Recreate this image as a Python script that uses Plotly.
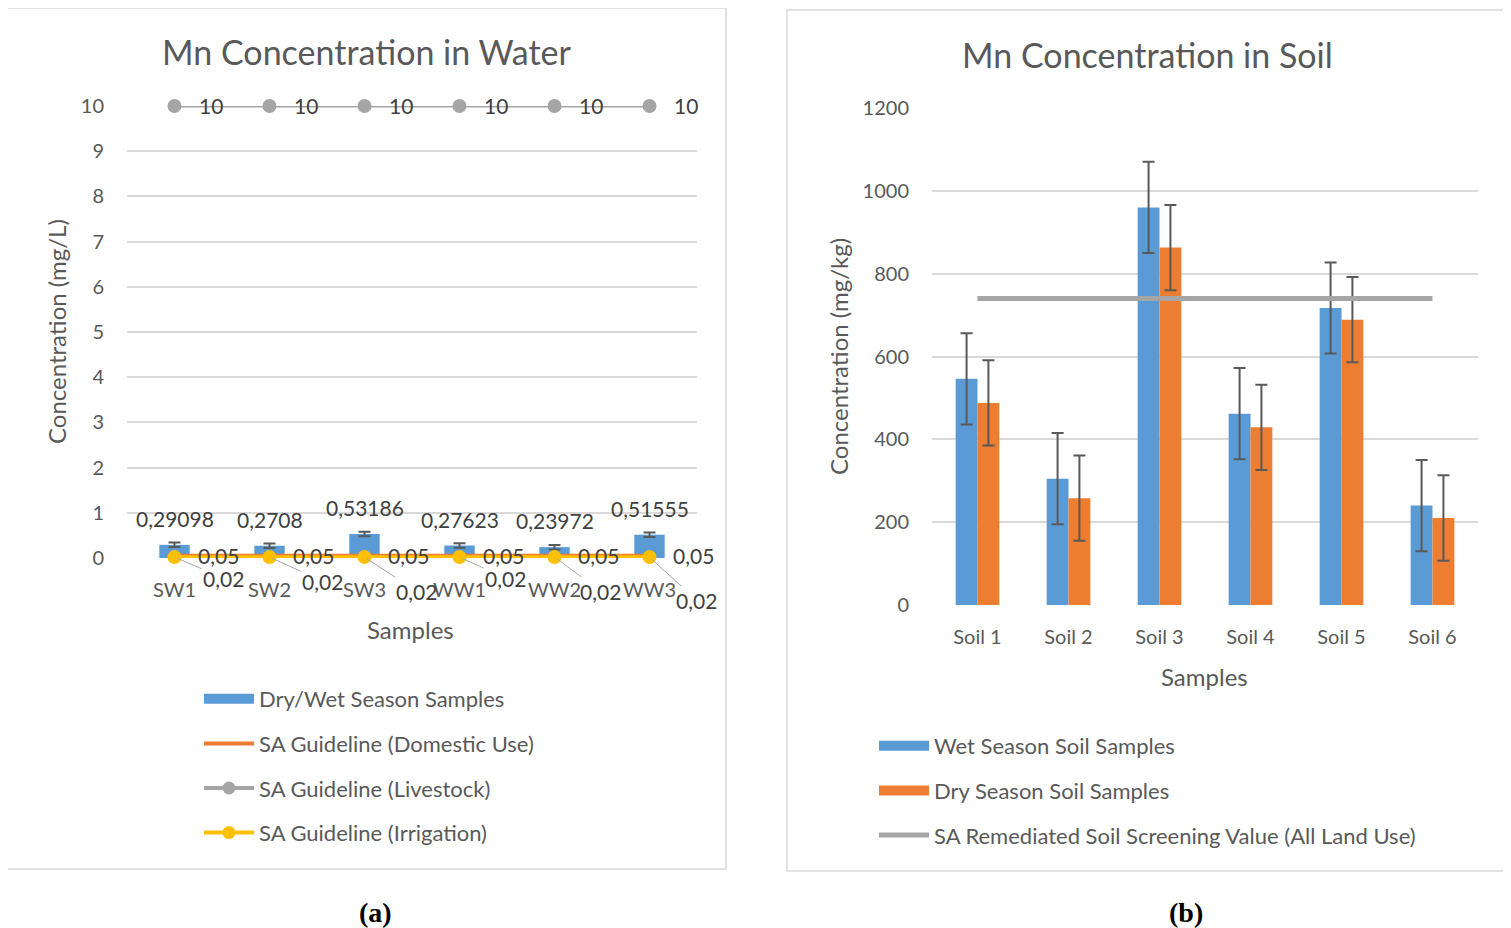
import plotly.graph_objects as go

# ---------------- data ----------------
water_samples = ["SW1", "SW2", "SW3", "WW1", "WW2", "WW3"]
water_values = [0.29098, 0.2708, 0.53186, 0.27623, 0.23972, 0.51555]
water_err = [0.05, 0.05, 0.05, 0.05, 0.05, 0.05]
domestic = [0.05, 0.05, 0.05, 0.05, 0.05, 0.05]
livestock = [10, 10, 10, 10, 10, 10]
irrigation = [0.02, 0.02, 0.02, 0.02, 0.02, 0.02]

soil_samples = ["Soil 1", "Soil 2", "Soil 3", "Soil 4", "Soil 5", "Soil 6"]
wet_soil = [546, 305, 960, 462, 717, 240]
wet_err = [110, 110, 110, 110, 110, 110]
dry_soil = [488, 258, 863, 429, 689, 210]
dry_err = [103, 103, 103, 103, 103, 103]
screening = [740, 740, 740, 740, 740, 740]

# ---------------- style ----------------
FONT = "Lato"
TXT = "#595959"
LBL = "#404040"
GRID = "#D9D9D9"
BLUE = "#5B9BD5"
ORANGE = "#ED7D31"
GRAY = "#A5A5A5"
YELLOW = "#FFC000"
# the page body adds an 8px margin, so the figure is placed 8px in from the corner
OX, OY = 8, 8
W, H = 1503, 920


def px(x):
    return (x - OX) / W


def py(y):
    return 1 - (y - OY) / H


def fmt(v):
    return f"{v:g}".replace(".", ",")


fig = go.Figure()

# ---- left: water ----
fig.add_trace(go.Bar(x=water_samples, y=water_values, marker_color=BLUE, width=0.32,
                     error_y=dict(type="data", array=water_err, color="#595959", thickness=2, width=6),
                     xaxis="x", yaxis="y", showlegend=False))
fig.add_trace(go.Scatter(x=water_samples, y=domestic, mode="lines", line=dict(color=ORANGE, width=4),
                         xaxis="x", yaxis="y", showlegend=False, cliponaxis=False))
fig.add_trace(go.Scatter(x=water_samples, y=livestock, mode="lines+markers",
                         line=dict(color=GRAY, width=3), marker=dict(size=14, color=GRAY),
                         xaxis="x", yaxis="y", showlegend=False, cliponaxis=False))
fig.add_trace(go.Scatter(x=water_samples, y=irrigation, mode="lines+markers",
                         line=dict(color=YELLOW, width=3.5), marker=dict(size=14, color=YELLOW),
                         xaxis="x", yaxis="y", showlegend=False, cliponaxis=False))

# legend entries (left)
left_leg = [("Dry/Wet Season Samples", BLUE, 14, False),
            ("SA Guideline (Domestic Use)", ORANGE, 4, False),
            ("SA Guideline (Livestock)", GRAY, 4, True),
            ("SA Guideline (Irrigation)", YELLOW, 4, True)]
for i, (name, col, lw, mk) in enumerate(left_leg):
    fig.add_trace(go.Scatter(x=[None], y=[None], name=name,
                             mode="lines+markers" if mk else "lines",
                             line=dict(color=col, width=lw), marker=dict(size=13, color=col),
                             xaxis="x", yaxis="y", legend="legend", legendgroup=f"l{i}"))

# ---- right: soil ----
fig.add_trace(go.Bar(x=soil_samples, y=wet_soil, marker_color=BLUE,
                     error_y=dict(type="data", array=wet_err, color="#595959", thickness=2, width=6),
                     xaxis="x2", yaxis="y2", showlegend=False, offsetgroup="w"))
fig.add_trace(go.Bar(x=soil_samples, y=dry_soil, marker_color=ORANGE,
                     error_y=dict(type="data", array=dry_err, color="#595959", thickness=2, width=6),
                     xaxis="x2", yaxis="y2", showlegend=False, offsetgroup="d"))
fig.add_trace(go.Scatter(x=soil_samples, y=screening, mode="lines",
                         line=dict(color=GRAY, width=5), xaxis="x2", yaxis="y2", showlegend=False))

right_leg = [("Wet Season Soil Samples", BLUE, 14),
             ("Dry Season Soil Samples", ORANGE, 14),
             ("SA Remediated Soil Screening Value (All Land Use)", GRAY, 5)]
for i, (name, col, lw) in enumerate(right_leg):
    fig.add_trace(go.Scatter(x=[None], y=[None], name=name, mode="lines",
                             line=dict(color=col, width=lw),
                             xaxis="x2", yaxis="y2", legend="legend2", legendgroup=f"r{i}"))

# ---- annotations: data labels ----
LF = dict(size=21, color=LBL)
ann = []
for s, v, e in zip(water_samples, water_values, water_err):
    ann.append(dict(x=s, y=v, xref="x", yref="y", text=fmt(v), showarrow=False,
                    yanchor="bottom", yshift=12, font=LF))
for s, v in zip(water_samples, domestic):
    ann.append(dict(x=s, y=v, xref="x", yref="y", text=fmt(v), showarrow=False,
                    xanchor="left", yanchor="middle", xshift=21, yshift=0, font=LF))
for s, v in zip(water_samples, livestock):
    ann.append(dict(x=s, y=v, xref="x", yref="y", text=fmt(v), showarrow=False,
                    xanchor="left", yanchor="middle", xshift=22, font=LF))
offs = [(49, 21), (53, 24), (52, 34), (46, 21), (46, 34), (47, 43)]
for (s, v), (ax, ay) in zip(zip(water_samples, irrigation), offs):
    ann.append(dict(x=s, y=v, xref="x", yref="y", text=fmt(v), showarrow=True,
                    arrowhead=0, arrowwidth=1, arrowcolor="#A6A6A6", ax=ax, ay=ay,
                    standoff=3, font=LF))

# titles, axis titles and captions
AT = dict(size=24, color=TXT)
ann += [
    dict(x=px(366), y=py(52), text="Mn Concentration in Water", font=dict(size=34, color=TXT)),
    dict(x=px(1147), y=py(54), text="Mn Concentration in Soil", font=dict(size=34, color=TXT)),
    dict(x=px(57), y=py(332), text="Concentration (mg/L)", textangle=-90, font=AT),
    dict(x=px(411), y=py(629), text="Samples", font=AT),
    dict(x=px(838), y=py(357), text="Concentration (mg/kg)", textangle=-90, font=AT),
    dict(x=px(1204), y=py(676), text="Samples", font=AT),
    dict(x=px(375), y=py(912), text="<b>(a)</b>",
         font=dict(size=28, color="black", family="Liberation Serif")),
    dict(x=px(1186), y=py(912), text="<b>(b)</b>",
         font=dict(size=28, color="black", family="Liberation Serif")),
]
for a in ann[-8:]:
    a.update(xref="paper", yref="paper", showarrow=False, xanchor="center", yanchor="middle")

shapes = [
    dict(type="rect", xref="paper", yref="paper", x0=px(6), x1=px(726), y0=py(869), y1=py(8),
         line=dict(color=GRID, width=1.5), layer="below"),
    dict(type="rect", xref="paper", yref="paper", x0=px(787), x1=px(1507),
         y0=py(871), y1=py(10), line=dict(color=GRID, width=1.5), layer="below"),
]

TF = dict(size=20, color=TXT)
yax_common = dict(showline=False, ticks="", tickfont=TF, gridcolor=GRID, gridwidth=1.5,
                  zeroline=False, automargin=False, ticklabelstandoff=22)
xax_common = dict(showline=False, ticks="", tickfont=TF, showgrid=False, zeroline=False,
                  automargin=False, ticklabelstandoff=18, range=[-0.5, 5.5])

fig.update_layout(
    template="none",
    width=W, height=H, margin=dict(l=0, r=0, t=0, b=0, autoexpand=False),
    paper_bgcolor="white", plot_bgcolor="white",
    font=dict(family=FONT, color=TXT),
    barmode="group", bargap=0.52, bargroupgap=0,
    xaxis=dict(domain=[px(127), px(697)], anchor="y", **xax_common),
    yaxis=dict(domain=[py(558), py(106)], range=[0, 10], dtick=1, anchor="x", **yax_common),
    xaxis2=dict(domain=[px(932), px(1478)], anchor="y2", **xax_common),
    yaxis2=dict(domain=[py(605), py(108)], range=[0, 1200], dtick=200, anchor="x2", **yax_common),
    legend=dict(x=px(199), y=py(678), xanchor="left", yanchor="top", font=dict(size=22, color=TXT),
                tracegroupgap=13, itemwidth=50, bgcolor="rgba(0,0,0,0)", borderwidth=0),
    legend2=dict(x=px(874), y=py(725), xanchor="left", yanchor="top", font=dict(size=22, color=TXT),
                 tracegroupgap=13, itemwidth=50, bgcolor="rgba(0,0,0,0)", borderwidth=0),
    annotations=ann, shapes=shapes,
)

fig.write_html("out.html")
